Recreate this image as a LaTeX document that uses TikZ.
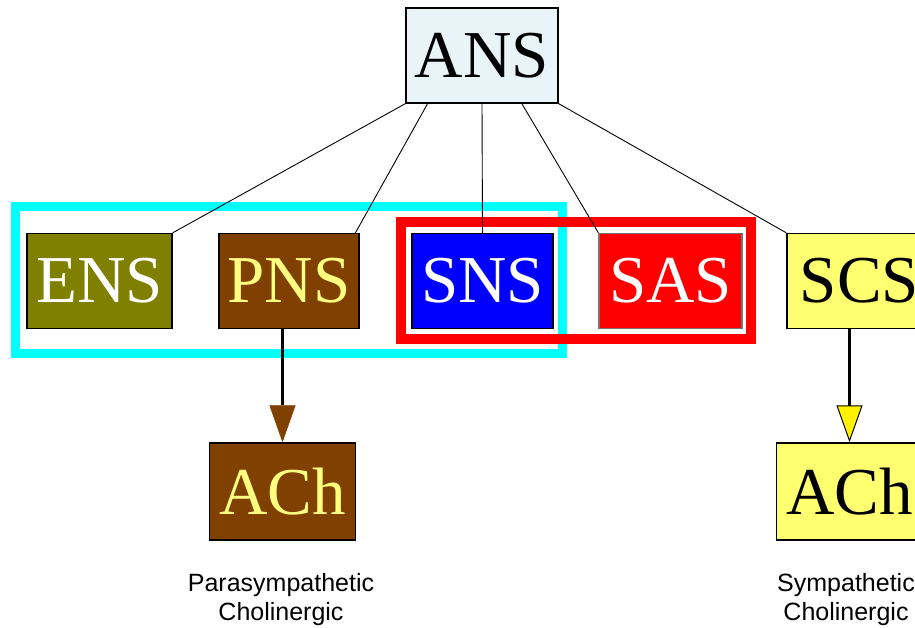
\documentclass[tikz,border=0pt]{standalone}
\usepackage{fontspec}
\setmainfont{Liberation Serif}
\setsansfont{Liberation Sans}
\usetikzlibrary{arrows.meta,calc}

\definecolor{ansfill}{RGB}{232,244,248}
\definecolor{ensfill}{RGB}{128,128,0}
\definecolor{pnsbrown}{RGB}{128,64,0}
\definecolor{softyellow}{RGB}{255,255,128}
\definecolor{scsfill}{RGB}{255,255,112}
\definecolor{groupcyan}{RGB}{0,255,255}

\tikzset{
  box/.style={draw=black, line width=1.3pt, rectangle, inner sep=0pt,
    minimum height=95pt, font=\fontsize{67}{70}\selectfont},
  tree/.style={draw=black, line width=0.9pt},
  feed/.style={draw=black, line width=2.6pt},
  caption/.style={font=\sffamily\fontsize{25}{29}\selectfont, align=center,
    inner sep=0pt, anchor=north},
}

\begin{document}
\begin{tikzpicture}[x=1pt,y=-1pt]
\path[use as bounding box, clip] (0,0) rectangle (915,628);

% group frames
\draw[groupcyan, line width=9pt] (15,206.5) rectangle (562.5,353.5);
\draw[red, line width=10pt] (401,222) rectangle (750.5,339);

% nodes
\node[box, fill=ansfill, minimum width=152pt] (ans) at (482,55.5) {ANS};
\node[box, fill=ensfill, text=white, minimum width=145pt] (ens) at (99.5,281) {ENS};
\node[box, fill=pnsbrown, text=softyellow, minimum width=140pt] (pns) at (289,281) {PNS};
\node[box, fill=blue, text=white, minimum width=141pt] (sns) at (482.5,281) {SNS};
\node[box, fill=red, draw=black!55, text=white, minimum width=143pt] (sas) at (670.5,281) {SAS};
\node[box, fill=scsfill, minimum width=145pt] (scs) at (859.5,281) {SCS};
\node[box, fill=pnsbrown, text=softyellow, minimum width=146pt, minimum height=97pt] (achp) at (282.5,491.5) {ACh};
\node[box, fill=scsfill, minimum width=146pt, minimum height=97pt] (achs) at (849.5,491.5) {ACh};

\node[caption] (parlabel) at (281,573.3) {Parasympathetic\\Cholinergic};
\node[caption] (symlabel) at (846,573.3) {Sympathetic\\Cholinergic};

% tree edges from ANS
\draw[tree] (ans.south west) -- (ens.north east);
\draw[tree] ($(ans.south west)!0.145!(ans.south east)$) -- ($(pns.north west)!0.97!(pns.north east)$);
\draw[tree] (ans.south) -- (sns.north);
\draw[tree] ($(ans.south west)!0.76!(ans.south east)$) -- (sas.north west);
\draw[tree] (ans.south east) -- (scs.north west);

% transmitter arrows
\draw[feed, -{Triangle[length=37pt,width=26pt,color=pnsbrown,line width=0.5pt]}]
  (pns.south -| achp.north) -- (achp.north);
\draw[feed, -{Triangle[length=37pt,width=26pt,fill=yellow,line width=1pt]}]
  (scs.south -| achs.north) -- (achs.north);
\end{tikzpicture}
\end{document}
